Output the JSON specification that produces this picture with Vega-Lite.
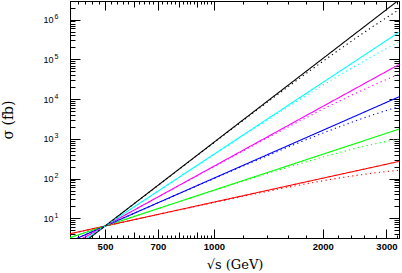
{
  "$schema": "https://vega.github.io/schema/vega-lite/v6.json",
  "autosize": "none",
  "width": 329,
  "height": 237,
  "padding": {"left": 70, "top": 1, "right": 3, "bottom": 35},
  "background": "white",
  "data": {
    "values": [
      {"rs": 400, "sig": 4.096, "n": "2", "kind": "solid"},
      {"rs": 3250, "sig": 270.4, "n": "2", "kind": "solid"},
      {"rs": 400, "sig": 3.277, "n": "3", "kind": "solid"},
      {"rs": 3250, "sig": 1757.6, "n": "3", "kind": "solid"},
      {"rs": 400, "sig": 2.621, "n": "4", "kind": "solid"},
      {"rs": 3250, "sig": 11424, "n": "4", "kind": "solid"},
      {"rs": 400, "sig": 2.097, "n": "5", "kind": "solid"},
      {"rs": 3250, "sig": 74259, "n": "5", "kind": "solid"},
      {"rs": 400, "sig": 1.678, "n": "6", "kind": "solid"},
      {"rs": 3250, "sig": 482682, "n": "6", "kind": "solid"},
      {"rs": 400, "sig": 1.342, "n": "7", "kind": "solid"},
      {"rs": 3250, "sig": 3137421, "n": "7", "kind": "solid"},

      {"rs": 400, "sig": 4.09, "n": "2", "kind": "dotted"},
      {"rs": 500, "sig": 6.38, "n": "2", "kind": "dotted"},
      {"rs": 700, "sig": 12.45, "n": "2", "kind": "dotted"},
      {"rs": 1000, "sig": 25.04, "n": "2", "kind": "dotted"},
      {"rs": 1250, "sig": 38.4, "n": "2", "kind": "dotted"},
      {"rs": 1500, "sig": 53.8, "n": "2", "kind": "dotted"},
      {"rs": 1750, "sig": 70.6, "n": "2", "kind": "dotted"},
      {"rs": 2000, "sig": 88.2, "n": "2", "kind": "dotted"},
      {"rs": 2250, "sig": 105.5, "n": "2", "kind": "dotted"},
      {"rs": 2500, "sig": 122.2, "n": "2", "kind": "dotted"},
      {"rs": 2750, "sig": 137.5, "n": "2", "kind": "dotted"},
      {"rs": 3000, "sig": 151.0, "n": "2", "kind": "dotted"},
      {"rs": 3250, "sig": 162.0, "n": "2", "kind": "dotted"},

      {"rs": 400, "sig": 3.27, "n": "3", "kind": "dotted"},
      {"rs": 500, "sig": 6.38, "n": "3", "kind": "dotted"},
      {"rs": 700, "sig": 17.44, "n": "3", "kind": "dotted"},
      {"rs": 1000, "sig": 50.07, "n": "3", "kind": "dotted"},
      {"rs": 1250, "sig": 95.9, "n": "3", "kind": "dotted"},
      {"rs": 1500, "sig": 160.9, "n": "3", "kind": "dotted"},
      {"rs": 1750, "sig": 245.3, "n": "3", "kind": "dotted"},
      {"rs": 2000, "sig": 348.2, "n": "3", "kind": "dotted"},
      {"rs": 2250, "sig": 466.0, "n": "3", "kind": "dotted"},
      {"rs": 2500, "sig": 595.2, "n": "3", "kind": "dotted"},
      {"rs": 2750, "sig": 729.4, "n": "3", "kind": "dotted"},
      {"rs": 3000, "sig": 866.8, "n": "3", "kind": "dotted"},
      {"rs": 3250, "sig": 1000.1, "n": "3", "kind": "dotted"},

      {"rs": 400, "sig": 2.62, "n": "4", "kind": "dotted"},
      {"rs": 500, "sig": 6.38, "n": "4", "kind": "dotted"},
      {"rs": 700, "sig": 24.42, "n": "4", "kind": "dotted"},
      {"rs": 1000, "sig": 100.1, "n": "4", "kind": "dotted"},
      {"rs": 1250, "sig": 239.8, "n": "4", "kind": "dotted"},
      {"rs": 1500, "sig": 482.6, "n": "4", "kind": "dotted"},
      {"rs": 1750, "sig": 858.6, "n": "4", "kind": "dotted"},
      {"rs": 2000, "sig": 1392.6, "n": "4", "kind": "dotted"},
      {"rs": 2250, "sig": 2096.9, "n": "4", "kind": "dotted"},
      {"rs": 2500, "sig": 2976, "n": "4", "kind": "dotted"},
      {"rs": 2750, "sig": 4011.6, "n": "4", "kind": "dotted"},
      {"rs": 3000, "sig": 5200.6, "n": "4", "kind": "dotted"},
      {"rs": 3250, "sig": 6500, "n": "4", "kind": "dotted"},

      {"rs": 400, "sig": 2.09, "n": "5", "kind": "dotted"},
      {"rs": 500, "sig": 6.38, "n": "5", "kind": "dotted"},
      {"rs": 700, "sig": 34.18, "n": "5", "kind": "dotted"},
      {"rs": 1000, "sig": 200.3, "n": "5", "kind": "dotted"},
      {"rs": 1250, "sig": 599.4, "n": "5", "kind": "dotted"},
      {"rs": 1500, "sig": 1447.9, "n": "5", "kind": "dotted"},
      {"rs": 1750, "sig": 3005, "n": "5", "kind": "dotted"},
      {"rs": 2000, "sig": 5570.6, "n": "5", "kind": "dotted"},
      {"rs": 2250, "sig": 9436, "n": "5", "kind": "dotted"},
      {"rs": 2500, "sig": 14880, "n": "5", "kind": "dotted"},
      {"rs": 2750, "sig": 22064, "n": "5", "kind": "dotted"},
      {"rs": 3000, "sig": 31203, "n": "5", "kind": "dotted"},
      {"rs": 3250, "sig": 42253, "n": "5", "kind": "dotted"},

      {"rs": 400, "sig": 1.68, "n": "6", "kind": "dotted"},
      {"rs": 500, "sig": 6.38, "n": "6", "kind": "dotted"},
      {"rs": 700, "sig": 47.85, "n": "6", "kind": "dotted"},
      {"rs": 1000, "sig": 400.6, "n": "6", "kind": "dotted"},
      {"rs": 1250, "sig": 1498.4, "n": "6", "kind": "dotted"},
      {"rs": 1500, "sig": 4343.7, "n": "6", "kind": "dotted"},
      {"rs": 1750, "sig": 10518, "n": "6", "kind": "dotted"},
      {"rs": 2000, "sig": 22282, "n": "6", "kind": "dotted"},
      {"rs": 2250, "sig": 42462, "n": "6", "kind": "dotted"},
      {"rs": 2500, "sig": 74400, "n": "6", "kind": "dotted"},
      {"rs": 2750, "sig": 121348, "n": "6", "kind": "dotted"},
      {"rs": 3000, "sig": 187221, "n": "6", "kind": "dotted"},
      {"rs": 3250, "sig": 274646, "n": "6", "kind": "dotted"},

      {"rs": 400, "sig": 1.34, "n": "7", "kind": "dotted"},
      {"rs": 500, "sig": 6.38, "n": "7", "kind": "dotted"},
      {"rs": 700, "sig": 66.99, "n": "7", "kind": "dotted"},
      {"rs": 1000, "sig": 801.2, "n": "7", "kind": "dotted"},
      {"rs": 1250, "sig": 3745.9, "n": "7", "kind": "dotted"},
      {"rs": 1500, "sig": 13031, "n": "7", "kind": "dotted"},
      {"rs": 1750, "sig": 36812, "n": "7", "kind": "dotted"},
      {"rs": 2000, "sig": 89129, "n": "7", "kind": "dotted"},
      {"rs": 2250, "sig": 191079, "n": "7", "kind": "dotted"},
      {"rs": 2500, "sig": 372000, "n": "7", "kind": "dotted"},
      {"rs": 2750, "sig": 667433, "n": "7", "kind": "dotted"},
      {"rs": 3000, "sig": 1123327, "n": "7", "kind": "dotted"},
      {"rs": 3250, "sig": 1785193, "n": "7", "kind": "dotted"}
    ]
  },
  "resolve": {"axis": {"x": "independent", "y": "independent"}},
  "layer": [
    {
      "mark": {"type": "line", "clip": true, "strokeWidth": 1.1},
      "encoding": {
        "x": {
          "field": "rs", "type": "quantitative",
          "scale": {"type": "log", "domain": [400, 3250], "nice": false},
          "axis": {
            "orient": "bottom",
            "values": [400,420,440,460,480,500,520,540,560,580,600,620,640,660,680,700,720,740,760,780,800,820,840,860,880,900,920,940,960,980,1000,1200,1400,1600,1800,2000,2200,2400,2600,2800,3000,3200],
            "labelExpr": "indexof([500,700,1000,2000,3000], datum.value) >= 0 ? '' + datum.value : ''",
            "tickSize": {"condition": [{"test": "indexof([500,700,1000,2000,3000], datum.value) >= 0", "value": -9}, {"test": "datum.value < 1000 && datum.value % 100 == 0", "value": -6}], "value": -3},
            "labelFont": "Liberation Sans", "labelFontSize": 9.5, "labelFontWeight": "bold",
            "labelPadding": 12, "labelOverlap": false, "labelFlush": false, "labelBound": false,
            "title": "√s (GeV)", "titleFont": "DejaVu Serif", "titleFontSize": 13, "titleFontWeight": "normal", "titlePadding": 2
          }
        },
        "y": {
          "field": "sig", "type": "quantitative",
          "scale": {"type": "log", "domain": [3.2, 2950000], "nice": false},
          "axis": {
            "orient": "left",
            "values": [4,5,6,7,8,9,10,20,30,40,50,60,70,80,90,100,200,300,400,500,600,700,800,900,1000,2000,3000,4000,5000,6000,7000,8000,9000,10000,20000,30000,40000,50000,60000,70000,80000,90000,100000,200000,300000,400000,500000,600000,700000,800000,900000,1000000,2000000],
            "labelExpr": "abs(log(datum.value)/LN10 - round(log(datum.value)/LN10)) < 0.001 ? '10' : ''",
            "tickSize": {"condition": {"test": "abs(log(datum.value)/LN10 - round(log(datum.value)/LN10)) < 0.001", "value": -10}, "value": -5},
            "labelFont": "Liberation Sans", "labelFontSize": 9, "labelFontWeight": "normal",
            "labelPadding": 27, "labelOverlap": false, "labelFlush": false, "labelBound": false,
            "title": "σ (fb)", "titleFont": "DejaVu Serif", "titleFontSize": 14, "titleFontWeight": "normal", "titlePadding": 27
          }
        },
        "color": {
          "field": "n", "type": "nominal", "legend": null,
          "scale": {"domain": ["2","3","4","5","6","7"], "range": ["#ff0000","#00ff00","#0000ff","#ff00ff","#00ffff","#000000"]}
        },
        "strokeDash": {
          "field": "kind", "type": "nominal", "legend": null,
          "scale": {"domain": ["solid","dotted"], "range": [[1,0],[1.2,3.3]]}
        }
      }
    },
    {
      "mark": {"type": "point", "opacity": 0},
      "encoding": {
        "x": {
          "field": "rs", "type": "quantitative",
          "scale": {"type": "log", "domain": [400, 3250], "nice": false},
          "axis": {
            "orient": "top",
            "values": [400,420,440,460,480,500,520,540,560,580,600,620,640,660,680,700,720,740,760,780,800,820,840,860,880,900,920,940,960,980,1000,1200,1400,1600,1800,2000,2200,2400,2600,2800,3000,3200],
            "labels": false, "title": null,
            "tickSize": {"condition": [{"test": "indexof([500,700,1000,2000,3000], datum.value) >= 0", "value": -9}, {"test": "datum.value < 1000 && datum.value % 100 == 0", "value": -6}], "value": -3}
          }
        },
        "y": {
          "field": "sig", "type": "quantitative",
          "scale": {"type": "log", "domain": [3.2, 2950000], "nice": false},
          "axis": {
            "orient": "right",
            "values": [4,5,6,7,8,9,10,20,30,40,50,60,70,80,90,100,200,300,400,500,600,700,800,900,1000,2000,3000,4000,5000,6000,7000,8000,9000,10000,20000,30000,40000,50000,60000,70000,80000,90000,100000,200000,300000,400000,500000,600000,700000,800000,900000,1000000,2000000],
            "labels": false, "title": null,
            "tickSize": {"condition": {"test": "abs(log(datum.value)/LN10 - round(log(datum.value)/LN10)) < 0.001", "value": -10}, "value": -5}
          }
        }
      }
    },
    {
      "mark": {"type": "point", "opacity": 0},
      "encoding": {
        "x": {
          "field": "rs", "type": "quantitative",
          "scale": {"type": "log", "domain": [400, 3250], "nice": false},
          "axis": null
        },
        "y": {
          "field": "sig", "type": "quantitative",
          "scale": {"type": "log", "domain": [3.2, 2950000], "nice": false},
          "axis": {
            "orient": "left",
            "values": [10,100,1000,10000,100000,1000000],
            "labelExpr": "'' + round(log(datum.value)/LN10)",
            "ticks": false, "domain": false, "title": null,
            "labelFont": "Liberation Sans", "labelFontSize": 7, "labelAlign": "right",
            "labelPadding": 12, "labelOffset": -3, "labelOverlap": false, "labelFlush": false, "labelBound": false
          }
        }
      }
    }
  ],
  "config": {
    "view": {"stroke": "black", "strokeWidth": 1},
    "axis": {"grid": false, "domainColor": "black", "tickColor": "black", "labelColor": "black", "titleColor": "black", "tickWidth": 1, "domainWidth": 1}
  }
}
